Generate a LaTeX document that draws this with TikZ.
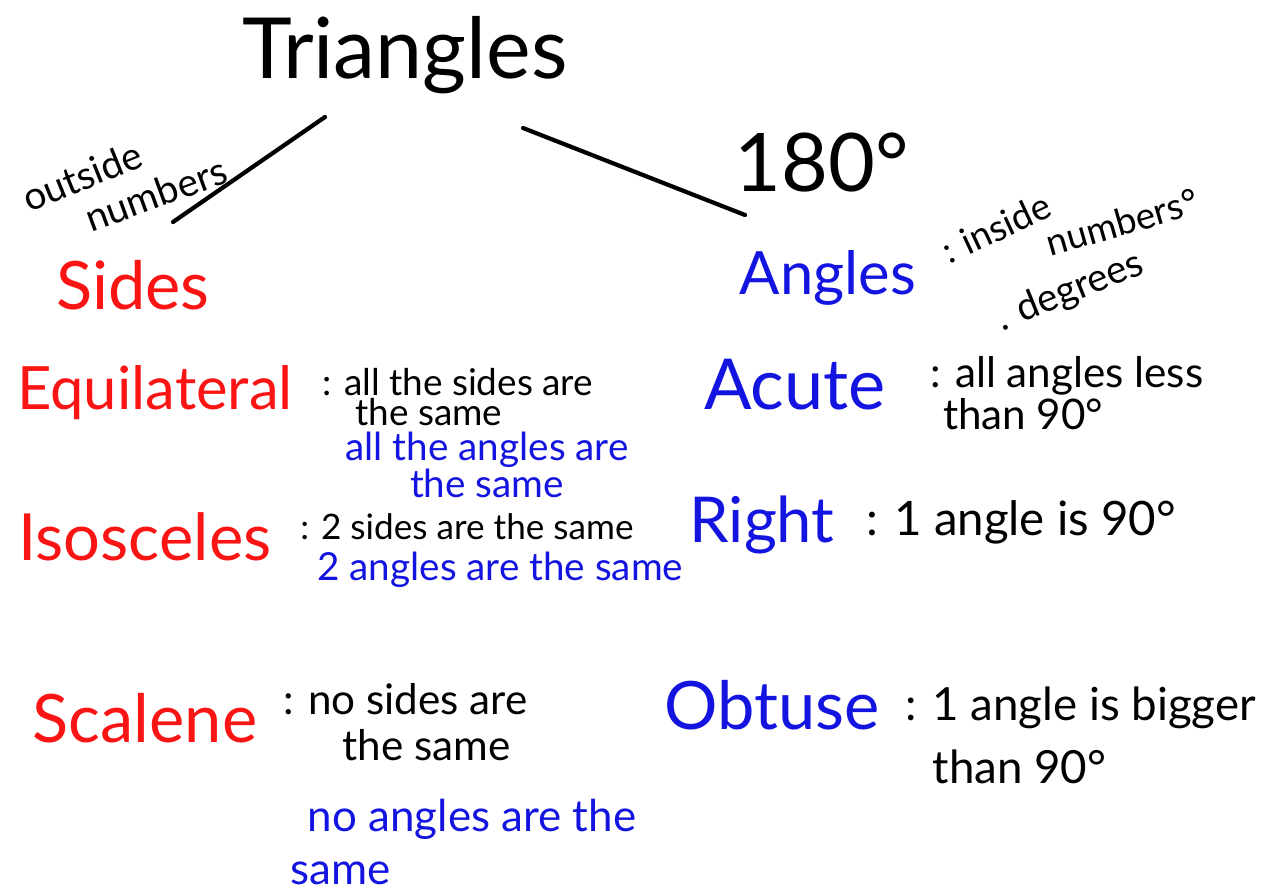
\documentclass[tikz,border=0pt]{standalone}
\usepackage{fontspec}
\setmainfont{Lato}
\usetikzlibrary{positioning}
\definecolor{sidered}{RGB}{250,20,20}
\definecolor{angleblue}{RGB}{20,20,225}
\tikzstyle{heading} = [inner sep=0pt, font=\fontsize{48}{52}\selectfont, text=black]
\tikzstyle{sidename} = [inner sep=0pt, font=\fontsize{34}{38}\selectfont, text=sidered]
\tikzstyle{anglename} = [inner sep=0pt, font=\fontsize{36}{40}\selectfont, text=angleblue]
\tikzstyle{note} = [inner sep=0pt, anchor=west, align=left,
  font=\fontsize{21}{17}\selectfont, text=black]
\tikzstyle{bluenote} = [inner sep=0pt, align=left,
  font=\fontsize{22}{17}\selectfont, text=angleblue]
\tikzstyle{slanted} = [inner sep=0pt, font=\fontsize{22}{24}\selectfont, text=black]
\tikzstyle{branch} = [line width=2.4pt, line cap=round]

\begin{document}
\begin{tikzpicture}[x=0.02cm, y=-0.02cm]
\useasboundingbox (0,0) rectangle (1261,895);

%% ---- TITLE ----
\node (title) [heading] at (405, 55) {Triangles};
\coordinate (lbtop) at (325, 117);
\coordinate (lbend) at (173, 222);
\coordinate (rbtop) at (523, 128);
\coordinate (rbend) at (745, 215);
\draw[branch] (lbtop) -- (lbend);
\draw[branch] (rbtop) -- (rbend);

%% ---- BRANCH LABELS ----
\node (outside) [slanted, rotate=22] at (82, 176) {outside};
\node (outnum)  [slanted, rotate=20] at (156, 194) {numbers};
\node (deg) [heading, font=\fontsize{46}{50}\selectfont] at (822, 163) {180°};

%%=============================================================
%% SIDES COLUMN
%%=============================================================
\node (sides) [sidename, font=\fontsize{38}{42}\selectfont] at (133, 285) {Sides};

\node (equi) [sidename] at (155, 393) {Equilateral};
\node (equi_a) [note] at (322, 397) {: all the sides are\\\hspace*{0.9em}the same};
\node (equi_b) [bluenote, align=center] at (487, 465) {all the angles are\\the same};

\node (isos) [sidename, font=\fontsize{37}{40}\selectfont] at (145, 537) {Isosceles};
\node (isos_a) [note, font=\fontsize{20}{22}\selectfont] at (300, 527) {: 2 sides are the same};
\node (isos_b) [bluenote, anchor=west] at (317, 570) {2 angles are the same};

\node (scal) [sidename, font=\fontsize{38}{42}\selectfont] at (145, 718) {Scalene};
\node (scal_a) [note, font=\fontsize{24}{26}\selectfont] at (283, 722) {: no sides are\\\hspace*{1.4em}the same};
\node (scal_b) [bluenote, anchor=west, font=\fontsize{25}{30}\selectfont] at (290, 842) {\hspace*{0.4em}no angles are the\\same};

%%=============================================================
%% ANGLES COLUMN
%%=============================================================
\node (angles) [anglename, font=\fontsize{34}{38}\selectfont] at (828, 278) {Angles};
\node (ang_in)  [slanted, font=\fontsize{21}{24}\selectfont, rotate=25] at (996, 228) {: inside};
\node (ang_num) [slanted, font=\fontsize{21}{24}\selectfont, rotate=16] at (1122, 222) {numbers°};
\node (ang_deg) [slanted, rotate=22] at (1070, 292) {. degrees};

\node (acute) [anglename, font=\fontsize{40}{44}\selectfont] at (795, 385) {Acute};
\node (acute_a) [note, font=\fontsize{24}{24}\selectfont] at (930, 393) {: all angles less\\\hspace*{0.3em}than 90°};

\node (right) [anglename] at (762, 525) {Right};
\node (right_a) [note, font=\fontsize{27}{30}\selectfont] at (866, 522) {: 1 angle is 90°};

\node (obt) [anglename, font=\fontsize{38}{42}\selectfont] at (772, 705) {Obtuse};
\node (obt_a) [note, font=\fontsize{26}{36}\selectfont] at (905, 735) {: 1 angle is bigger\\\hspace*{0.6em}than 90°};

\end{tikzpicture}
\end{document}
